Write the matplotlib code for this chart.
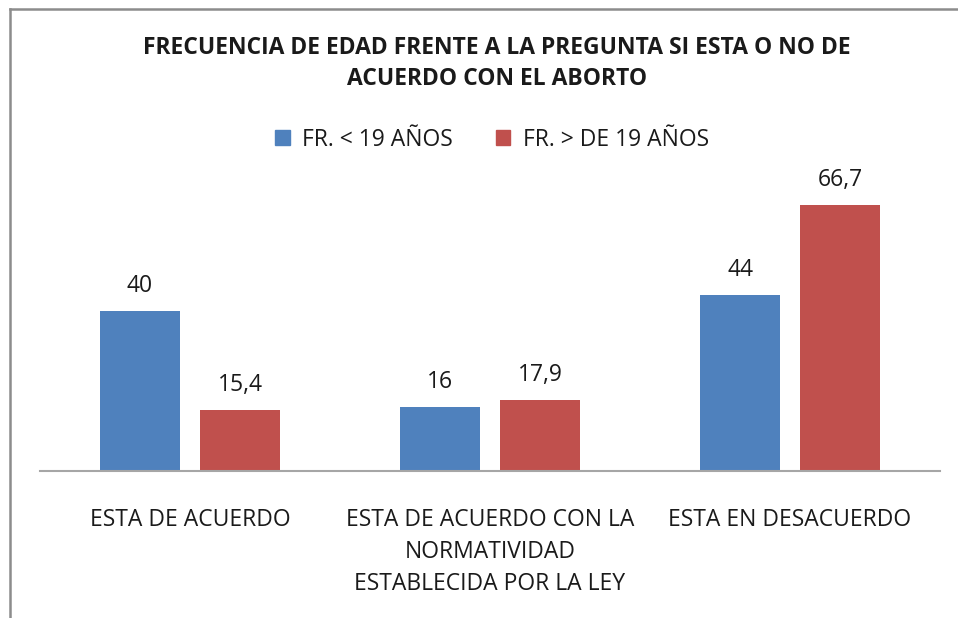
import matplotlib
matplotlib.use("Agg")
import matplotlib.pyplot as plt
from matplotlib.lines import Line2D
from matplotlib.patches import Patch
import numpy as np

categories = ["ESTA DE ACUERDO", "ESTA DE ACUERDO CON LA\nNORMATIVIDAD\nESTABLECIDA POR LA LEY", "ESTA EN DESACUERDO"]
series_names = ["FR. < 19 AÑOS", "FR. > DE 19 AÑOS"]
menores = [40, 16, 44]
mayores = [15.4, 17.9, 66.7]
labels_menores = ["40", "16", "44"]
labels_mayores = ["15,4", "17,9", "66,7"]
colors = ["#4F81BD", "#C0504D"]
title = "FRECUENCIA DE EDAD FRENTE A LA PREGUNTA SI ESTA O NO DE\nACUERDO CON EL ABORTO"

plt.rcParams['font.family'] = ['Open Sans', 'DejaVu Sans']

W, H = 958, 618
fig = plt.figure(figsize=(W/100, H/100), dpi=100)

# frame (chart area border, cropped at right/bottom)
fig.add_artist(Line2D([10/W, 10/W], [0, 1 - 9/H], color="#8c8c8c", lw=1.8, transform=fig.transFigure))
fig.add_artist(Line2D([10/W, 1], [1 - 9/H, 1 - 9/H], color="#8c8c8c", lw=1.8, transform=fig.transFigure))

ymax = 70
px_per_unit = 3.99
ax_left, ax_right, ax_base = 40, 940, 471
ax_h = ymax * px_per_unit
ax = fig.add_axes([ax_left/W, (H - ax_base)/H, (ax_right - ax_left)/W, ax_h/H])

x = np.arange(len(categories))
bw = 80/300
off = 50/300
b1 = ax.bar(x - off, menores, bw, color=colors[0], label=series_names[0])
b2 = ax.bar(x + off, mayores, bw, color=colors[1], label=series_names[1])

fs = 16.5
for bars, labs in ((b1, labels_menores), (b2, labels_mayores)):
    for rect, lab in zip(bars, labs):
        ax.annotate(lab, (rect.get_x() + rect.get_width()/2, rect.get_height()),
                    xytext=(0, 13), textcoords="offset pixels", ha="center", va="bottom",
                    fontsize=fs, color="#1a1a1a")

ax.set_xlim(-0.5, 2.5)
ax.set_ylim(0, ymax)
ax.set_yticks([])
ax.set_xticks(x)
ax.set_xticklabels(categories, fontsize=fs, color="#1a1a1a", linespacing=1.42)
ax.tick_params(axis="x", length=0, pad=27)
for s in ("top", "right", "left"):
    ax.spines[s].set_visible(False)
ax.spines["bottom"].set_color("#a6a6a6")
ax.spines["bottom"].set_linewidth(1.5)
ax.patch.set_alpha(0)

fig.text(497/W, 1 - 63.5/H, title, ha="center", va="center", fontsize=fs,
         fontweight="bold", color="#1a1a1a", linespacing=1.42)

handles = [Patch(color=colors[0]), Patch(color=colors[1])]
fig.legend(handles, series_names, loc="center", bbox_to_anchor=(492/W, 1 - 139.5/H),
           ncol=2, frameon=False, fontsize=fs, handlelength=0.65, handleheight=0.65,
           handletextpad=0.55, columnspacing=1.85, labelcolor="#1a1a1a")

fig.savefig("out.png", dpi=100, facecolor="white")
